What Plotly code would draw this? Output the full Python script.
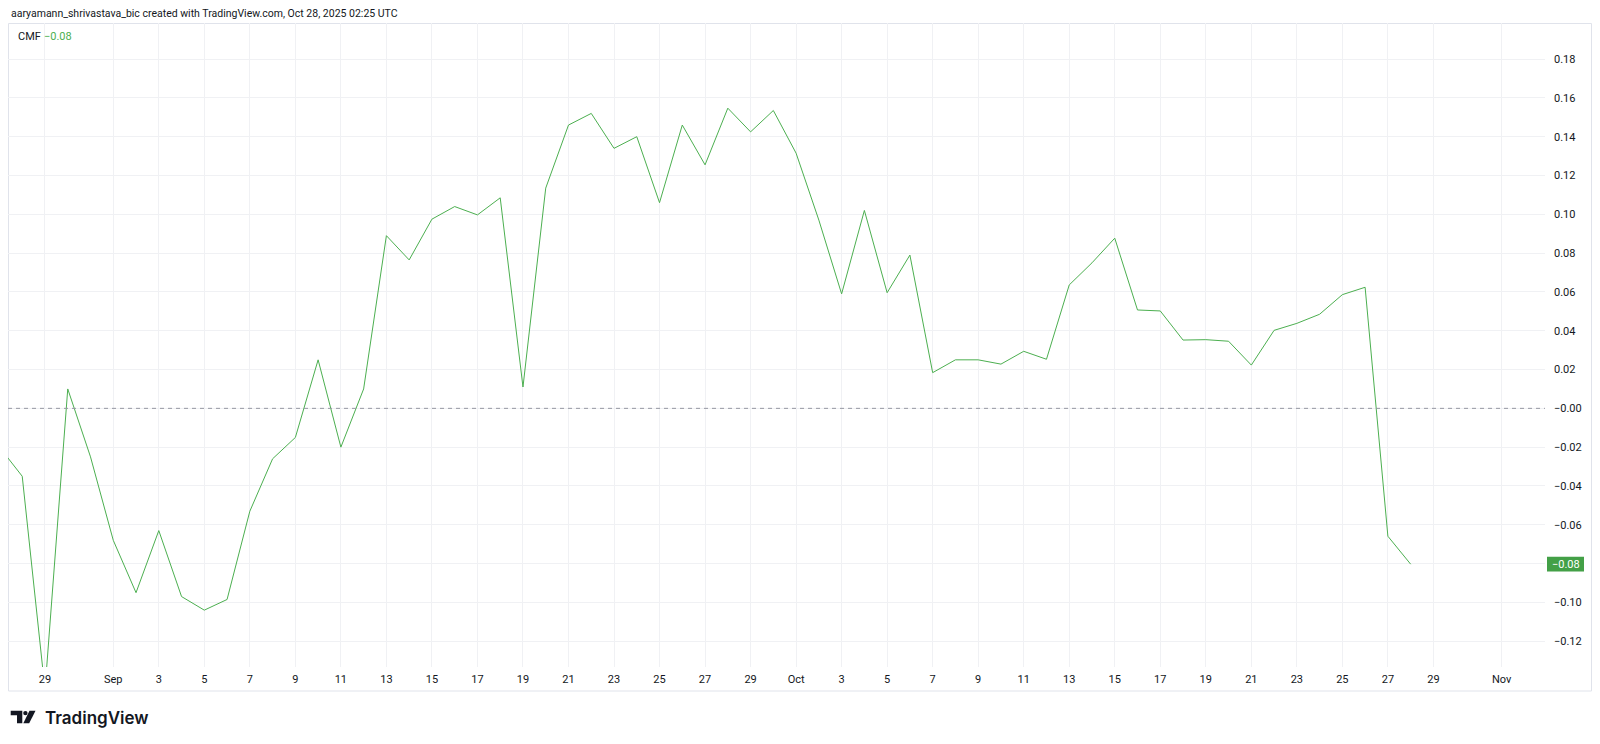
import pandas as pd
import plotly.graph_objects as go

# ---------------- data ----------------
dates = pd.date_range("2025-08-27", "2025-10-28", freq="D")
cmf = [
    -0.020, -0.035, -0.145, 0.010, -0.025,                      # Aug 27-31
    -0.068, -0.095, -0.063, -0.097, -0.104, -0.0985, -0.053,    # Sep 1-7
    -0.026, -0.015, 0.025, -0.020, 0.010, 0.089, 0.0765,        # Sep 8-14
    0.0975, 0.104, 0.0997, 0.1085, 0.011, 0.1135, 0.146,        # Sep 15-21
    0.152, 0.134, 0.140, 0.106, 0.146, 0.1255, 0.1547,          # Sep 22-28
    0.1425, 0.1535,                                             # Sep 29-30
    0.1315, 0.097, 0.059, 0.102, 0.0596, 0.079, 0.0184,         # Oct 1-7
    0.025, 0.025, 0.0228, 0.0294, 0.0253, 0.0636, 0.075,        # Oct 8-14
    0.0877, 0.0507, 0.0502, 0.0352, 0.0354, 0.0346, 0.0223,     # Oct 15-21
    0.0402, 0.0438, 0.0485, 0.0586, 0.0624, -0.0659, -0.0803,   # Oct 22-28
]

x_tick_dates = (["2025-08-29", "2025-09-01"]
                + [f"2025-09-{d:02d}" for d in range(3, 30, 2)]
                + ["2025-10-01"]
                + [f"2025-10-{d:02d}" for d in range(3, 30, 2)]
                + ["2025-11-01"])
x_tick_text = (["29", "Sep"] + [str(d) for d in range(3, 30, 2)]
               + ["Oct"] + [str(d) for d in range(3, 30, 2)] + ["Nov"])

y_tick_vals = [0.18, 0.16, 0.14, 0.12, 0.10, 0.08, 0.06, 0.04, 0.02, 0.0,
               -0.02, -0.04, -0.06, -0.08, -0.10, -0.12]
y_tick_text = ["0.18", "0.16", "0.14", "0.12", "0.10", "0.08", "0.06", "0.04",
               "0.02", "\u22120.00", "\u22120.02", "\u22120.04", "\u22120.06", "",
               "\u22120.10", "\u22120.12"]

last_value = cmf[-1]
last_text = "\u22120.08"

# ---------------- layout helpers ----------------
W, H = 1600, 744
L, R, T, B = 8, 1545, 23, 667          # plot area in pixels


def px(x):
    return (x - L) / (R - L)


def py(y):
    return (B - y) / (B - T)


GREEN = "#4caf50"
TEXT = "#131722"
GRID = "#f0f1f4"
FONT = "Roboto, Liberation Sans, sans-serif"

fig = go.Figure()
fig.add_trace(go.Scatter(x=dates, y=cmf, mode="lines",
                         line=dict(color=GREEN, width=1), hoverinfo="skip",
                         showlegend=False))

shapes = [
    # zero dashed line
    dict(type="line", xref="paper", yref="y", x0=0, x1=1, y0=0, y1=0,
         line=dict(color="#9598a1", width=1, dash="4px,4px"), layer="above"),
    # outer frame
    dict(type="rect", xref="paper", yref="paper", x0=px(8.5), x1=px(1591.5),
         y0=py(691), y1=py(23.5), line=dict(color="#e0e3eb", width=1),
         fillcolor="rgba(0,0,0,0)", layer="below"),
    # last value badge
    dict(type="rect", xref="paper", yref="y", x0=px(1547), x1=px(1584),
         y0=last_value - 0.0038, y1=last_value + 0.0038,
         fillcolor="#43a047", line=dict(width=0), layer="above"),
    # TradingView logo (approximation)
    dict(type="path", xref="paper", yref="paper", fillcolor="#131722",
         line=dict(width=0),
         path=(f"M {px(10.7)},{py(710.7)} L {px(22.3)},{py(710.7)} "
               f"L {px(22.3)},{py(723.3)} L {px(17)},{py(723.3)} "
               f"L {px(17)},{py(715.2)} L {px(10.7)},{py(715.2)} Z")),
    dict(type="circle", xref="paper", yref="paper", fillcolor="#131722",
         line=dict(width=0), x0=px(23.2), x1=px(27.6), y0=py(715.3), y1=py(710.9)),
    dict(type="path", xref="paper", yref="paper", fillcolor="#131722",
         line=dict(width=0),
         path=(f"M {px(29.5)},{py(710.7)} L {px(35.5)},{py(710.7)} "
               f"L {px(29.2)},{py(723.3)} L {px(23.3)},{py(723.3)} Z")),
]

annotations = [
    dict(text="aaryamann_shrivastava_bic created with TradingView.com, Oct 28, 2025 02:25 UTC",
         xref="paper", yref="paper", x=px(9), y=py(13), xanchor="left",
         yanchor="middle", showarrow=False, font=dict(family=FONT, size=10.5, color=TEXT)),
    dict(text="CMF", xref="paper", yref="paper", x=px(15.5), y=py(36),
         xanchor="left", yanchor="middle", showarrow=False,
         font=dict(family=FONT, size=11, color=TEXT)),
    dict(text=last_text, xref="paper", yref="paper", x=px(42), y=py(36),
         xanchor="left", yanchor="middle", showarrow=False,
         font=dict(family=FONT, size=11, color=GREEN)),
    dict(text=last_text, xref="paper", yref="y", x=px(1565.5), y=last_value,
         xanchor="center", yanchor="middle", showarrow=False,
         font=dict(family=FONT, size=11, color="white")),
    dict(text="TradingView", xref="paper", yref="paper", x=px(42.5), y=py(718),
         xanchor="left", yanchor="middle", showarrow=False,
         font=dict(family="Inter, Roboto, sans-serif", size=17, color="#131722",
                   weight=600)),
]

fig.update_layout(
    width=W, height=H, autosize=False,
    margin=dict(l=L, r=W - R, t=T, b=H - B, pad=0),
    paper_bgcolor="white", plot_bgcolor="white",
    shapes=shapes, annotations=annotations, showlegend=False,
    xaxis=dict(range=["2025-08-27 09:00", "2025-11-02 21:40"],
               tickmode="array", tickvals=x_tick_dates, ticktext=x_tick_text,
               showgrid=True, gridcolor=GRID, gridwidth=1, zeroline=False,
               showline=False, ticks="", ticklabelstandoff=4,
               tickfont=dict(family=FONT, size=11, color=TEXT), fixedrange=True),
    yaxis=dict(range=[-0.1333, 0.1986], side="right",
               tickmode="array", tickvals=y_tick_vals, ticktext=y_tick_text,
               showgrid=True, gridcolor=GRID, gridwidth=1, zeroline=False,
               showline=False, ticks="", ticklabelstandoff=8,
               tickfont=dict(family=FONT, size=11, color=TEXT), fixedrange=True),
)

fig.write_html("out.html",
               config={"displayModeBar": False},
               post_script="document.body.style.margin='0';document.body.style.overflow='hidden';")
